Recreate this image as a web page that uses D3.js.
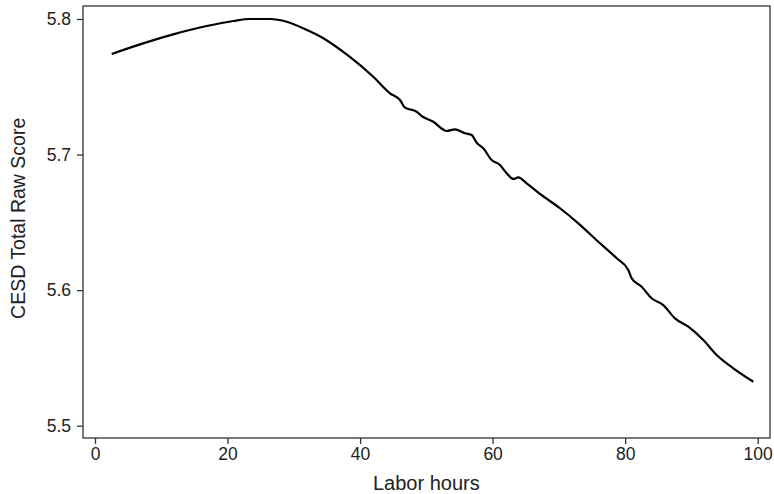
<!DOCTYPE html>
<html><head><meta charset="utf-8">
<script src="https://cdn.jsdelivr.net/npm/d3@7"></script>
<style>body{margin:0;background:#fff;} svg{display:block;}</style>
</head><body>
<script>
const hours = [2.52,6.79,11.81,16.86,20.87,23.39,26.41,28.93,31.95,34.45,38.22,41.99,44.51,46.02,46.78,48.54,49.30,51.05,53.07,54.32,55.83,56.84,57.60,58.59,59.86,61.11,62.12,63.12,63.87,65.14,66.89,70.17,72.93,75.95,78.72,80.47,80.99,82.49,84.00,85.75,87.52,89.53,91.79,93.81,96.32,99.34];
const score = [5.7742,5.7813,5.7887,5.7948,5.7985,5.8000,5.8000,5.7980,5.7919,5.7858,5.7729,5.7574,5.7452,5.7402,5.7346,5.7316,5.7284,5.7242,5.7174,5.7186,5.7157,5.7144,5.7087,5.7046,5.6960,5.6923,5.6862,5.6820,5.6832,5.6788,5.6719,5.6604,5.6493,5.6357,5.6235,5.6149,5.6087,5.6025,5.5940,5.5890,5.5792,5.5730,5.5632,5.5521,5.5423,5.5324];
const xTicks = [0,20,40,60,80,100];
const yTicks = [5.5,5.6,5.7,5.8];

const W = 774, H = 494;
const frame = {left:83, top:6, right:770, bottom:438};
const svg = d3.select("body").append("svg").attr("width",W).attr("height",H);
const x = d3.scaleLinear().domain([0,100]).range([95,757.7]);
const y = d3.scaleLinear().domain([5.5,5.8]).range([425.7,19]);
const font = "'Liberation Sans', Arial, Helvetica, sans-serif";

svg.append("rect").attr("x",frame.left).attr("y",frame.top)
  .attr("width",frame.right-frame.left).attr("height",frame.bottom-frame.top)
  .attr("fill","none").attr("stroke","#333").attr("stroke-width",1.3);

const xa = svg.append("g").attr("transform",`translate(0,${frame.bottom})`)
  .call(d3.axisBottom(x).tickValues(xTicks).tickSize(6).tickPadding(4).tickFormat(d3.format("d")));
const ya = svg.append("g").attr("transform",`translate(${frame.left},0)`)
  .call(d3.axisLeft(y).tickValues(yTicks).tickSize(6).tickPadding(6).tickFormat(d3.format(".1f")));
[xa,ya].forEach(a=>{
  a.select(".domain").remove();
  a.selectAll("line").attr("stroke","#333").attr("stroke-width",1.3);
  a.selectAll("text").attr("font-family",font).attr("font-size",17.5).attr("fill","#222");
});

svg.append("path").datum(hours.map((h,i)=>[h,score[i]]))
  .attr("fill","none").attr("stroke","#000").attr("stroke-width",2.2)
  .attr("stroke-linejoin","round")
  .attr("d",d3.line().x(d=>x(d[0])).y(d=>y(d[1])).curve(d3.curveMonotoneX));

svg.append("text").attr("x",426.3).attr("y",490)
  .attr("text-anchor","middle").attr("font-family",font).attr("font-size",20).attr("fill","#222")
  .text("Labor hours");
svg.append("text").attr("transform",`translate(25,218.3) rotate(-90)`)
  .attr("text-anchor","middle").attr("font-family",font).attr("font-size",19.5).attr("fill","#222")
  .text("CESD Total Raw Score");
</script>
</body></html>
